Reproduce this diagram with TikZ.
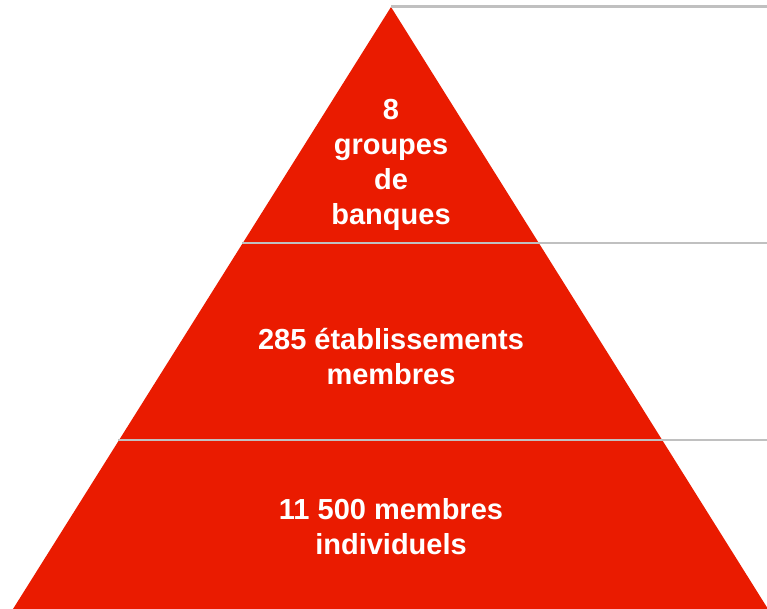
\documentclass[tikz,border=0pt]{standalone}
\usepackage{fontspec}
\setmainfont{Liberation Sans}
\usepackage{tikz}
\usetikzlibrary{positioning}
\definecolor{pyramid red}{RGB}{234,27,0}
\definecolor{rule gray}{RGB}{192,192,192}
\tikzstyle{tier} = [fill = pyramid red]
\tikzstyle{divider} = [draw = rule gray, line width = 2.3]
\tikzstyle{tier label} = [text = white, align = center, inner sep = 0,
    font = \fontsize{29}{35}\selectfont\bfseries]
\tikzstyle{pyramid picture} = [x = 1pt, y = -1pt]

\begin{document}
\begin{tikzpicture}[pyramid picture]
            \useasboundingbox (0, 0) rectangle (767, 609);
            \coordinate (apex) at (391, 7);
            \coordinate (base left) at (13, 609);
            \coordinate (base right) at (768, 609);
            \fill [tier] (apex) -- (base right) -- (base left) -- cycle;
            % dividing rules, running out to the right
            \coordinate (top start) at (391, 6.5);
            \coordinate (top end) at (767, 6.5);
            \coordinate (mid start) at (242, 243);
            \coordinate (mid end) at (767, 243);
            \coordinate (low start) at (118, 440);
            \coordinate (low end) at (767, 440);
            \foreach \r in {top, mid, low}
            {
                \draw [divider] (\r\space start) -- (\r\space end);
            }
            \node [tier label] (groups) at (391, 165) {8\\groupes\\de\\banques};
            \node [tier label] (members) at (391, 357) {285 établissements\\membres};
            \node [tier label] (individuals) at (391, 527) {11 500 membres\\individuels};
        \end{tikzpicture}
\end{document}
